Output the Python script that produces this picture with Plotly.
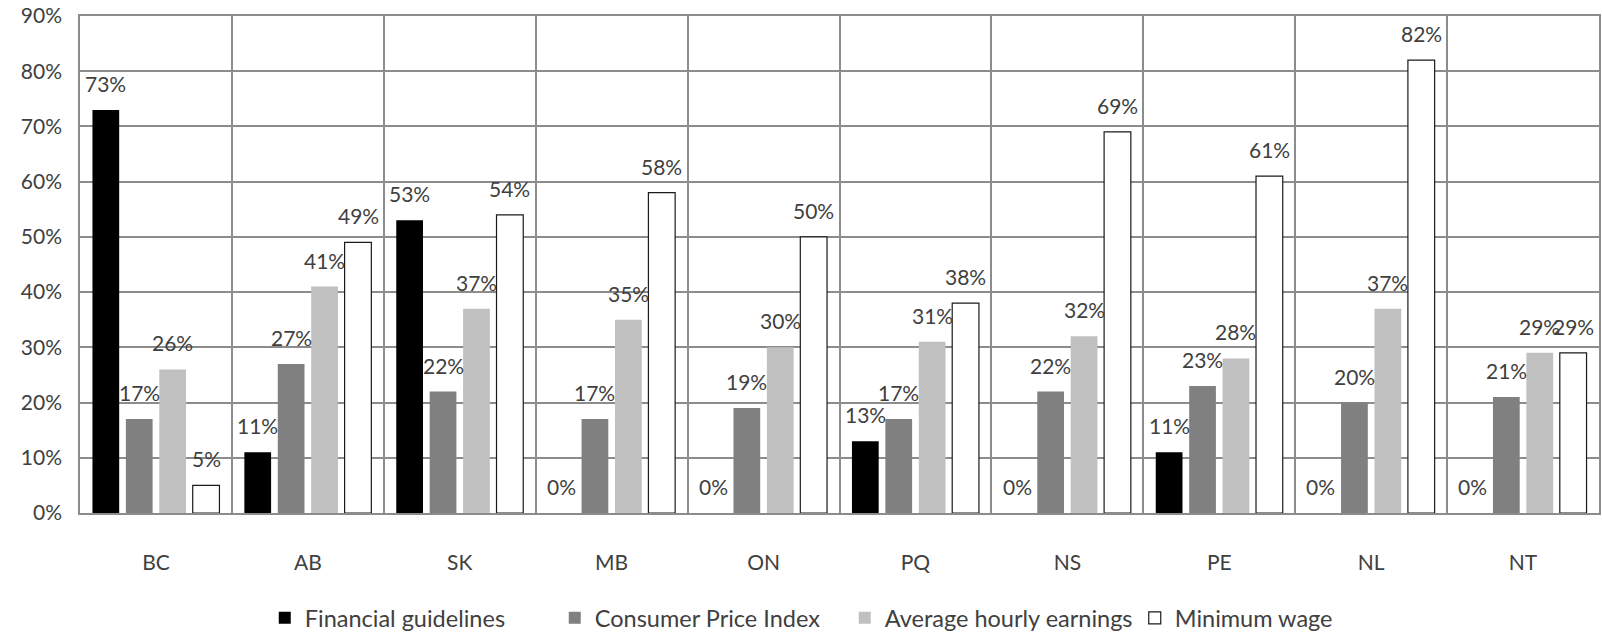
import plotly.graph_objects as go

# Provinces / territories
provinces = ["BC", "AB", "SK", "MB", "ON", "PQ", "NS", "PE", "NL", "NT"]

# Percent values per indexation method
financial_guidelines = [73, 11, 53, 0, 0, 13, 0, 11, 0, 0]
consumer_price_index = [17, 27, 22, 17, 19, 17, 22, 23, 20, 21]
average_hourly_earnings = [26, 41, 37, 35, 30, 31, 32, 28, 37, 29]
minimum_wage = [5, 49, 54, 58, 50, 38, 69, 61, 82, 29]

y_ticks = [0, 10, 20, 30, 40, 50, 60, 70, 80, 90]

series = [
    ("Financial guidelines", financial_guidelines, "#000000", None),
    ("Consumer Price Index", consumer_price_index, "#808080", None),
    ("Average hourly earnings", average_hourly_earnings, "#c0c0c0", None),
    ("Minimum wage", minimum_wage, "#ffffff", "#1a1a1a"),
]

FONT = "Lato"
TEXT_COLOR = "#404040"
GRID = "#8c8c8c"

fig = go.Figure()
for name, vals, color, outline in series:
    fig.add_trace(go.Bar(
        name=name,
        x=provinces,
        y=vals,
        marker=dict(
            color=color,
            line=dict(color=outline if outline else color, width=1.2 if outline else 0),
        ),
    ))

# Value labels above each bar, shifted to its slot within the group
plot_w = 1602 - 80 - 1
cat_w = plot_w / len(provinces)
bargap = 0.12
slot_w = cat_w * (1 - bargap) / len(series)
annotations = []
for i, (name, vals, color, outline) in enumerate(series):
    offset = (i - (len(series) - 1) / 2) * slot_w
    for prov, v in zip(provinces, vals):
        annotations.append(dict(
            x=prov, y=v, xref="x", yref="y",
            text=f"{v}%", showarrow=False,
            xanchor="center", yanchor="bottom",
            xshift=offset, yshift=12,
            font=dict(family=FONT, size=21, color=TEXT_COLOR),
        ))

fig.update_layout(
    barmode="group",
    bargap=bargap,
    bargroupgap=0.2,
    width=1602,
    height=634,
    margin=dict(l=80, r=1, t=16, b=121),
    plot_bgcolor="#ffffff",
    paper_bgcolor="#ffffff",
    font=dict(family=FONT, size=21, color=TEXT_COLOR),
    annotations=annotations,
    showlegend=True,
    legend=dict(
        orientation="h",
        xref="paper", x=(265 - 80) / plot_w, xanchor="left",
        yref="container", y=(634 - 618) / 634, yanchor="middle",
        font=dict(family=FONT, size=23.5, color=TEXT_COLOR),
        traceorder="normal",
        itemclick=False,
        entrywidth=245,
        entrywidthmode="pixels",
    ),
    xaxis=dict(
        showgrid=True,
        gridcolor=GRID,
        gridwidth=1.5,
        tickson="boundaries",
        ticks="",
        showline=True,
        linecolor=GRID,
        linewidth=1.5,
        mirror=True,
        ticklabelstandoff=30,
        tickfont=dict(family=FONT, size=21, color=TEXT_COLOR),
    ),
    yaxis=dict(
        range=[0, 90],
        tickvals=y_ticks,
        ticktext=[f"{t}%" for t in y_ticks],
        showgrid=True,
        gridcolor=GRID,
        gridwidth=1.5,
        zeroline=False,
        ticks="",
        showline=True,
        linecolor=GRID,
        linewidth=1.5,
        mirror=True,
        ticklabelstandoff=12,
        tickfont=dict(family=FONT, size=21, color=TEXT_COLOR),
    ),
)

fig.write_html("out.html")
